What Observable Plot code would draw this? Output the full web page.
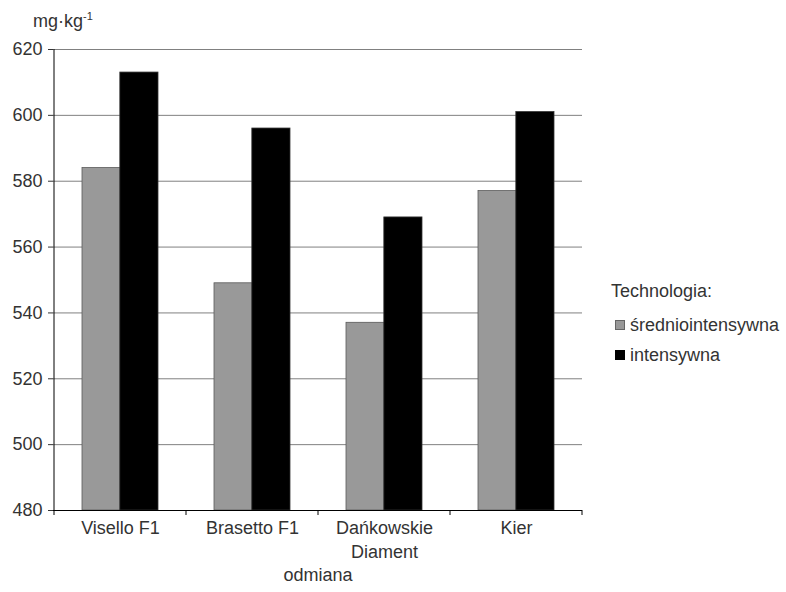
<!DOCTYPE html>
<html><head><meta charset="utf-8">
<script src="https://cdn.jsdelivr.net/npm/d3@7"></script>
<script src="https://cdn.jsdelivr.net/npm/@observablehq/plot@0.6"></script>
<style>
body{margin:0;background:#fff;font-family:"Liberation Sans",Arial,sans-serif;color:#333}
#wrap{position:relative;width:786px;height:592px}
#chart{position:absolute;left:0;top:0}
#ytitle{position:absolute;left:33px;top:11px;font-size:18px;line-height:20px;white-space:nowrap}
#ytitle sup{font-size:11px;vertical-align:0;position:relative;top:-7px}
.lg{position:absolute;left:611px;font-size:18px;line-height:20px;white-space:nowrap;display:flex;align-items:center}
.sw{width:8px;height:8px;margin-right:5px;margin-left:4px}
</style>
</head><body>
<div id="wrap">
  <div id="chart"></div>
  <div id="ytitle">mg·kg<sup>-1</sup></div>
  <div id="legend"></div>
</div>
<script>
const varieties = ["Visello F1", "Brasetto F1", "Dańkowskie Diament", "Kier"];
const varietyLabels = ["Visello F1", "Brasetto F1", "Dańkowskie\nDiament", "Kier"];
const seriesNames = ["średniointensywna", "intensywna"];
const sredniointensywna = [584, 549, 537, 577];
const intensywna = [613, 596, 569, 601];
const yTicks = [480, 500, 520, 540, 560, 580, 600, 620];
const legendTitle = "Technologia:";
const xTitle = "odmiana";

const W = 600, H = 592, mL = 53, mR = 18, mT = 49, mB = 82;
const PI = 0.428, PO = PI / 2;
const step = (W - mL - mR) / (varieties.length - PI + 2 * PO);
const half = step * (1 - PI) / 2;

const labelMap = new Map(varieties.map((v, i) => [v, varietyLabels[i]]));
const data = varieties.map((v, i) => ({variety: v, a: sredniointensywna[i], b: intensywna[i]}));

const plot = Plot.plot({
  width: W, height: H,
  marginLeft: mL, marginRight: mR, marginTop: mT, marginBottom: mB,
  style: {fontFamily: "Liberation Sans, Arial, sans-serif", fontSize: "18px", color: "#333", background: "white"},
  x: {domain: varieties, paddingInner: PI, paddingOuter: PO, axis: null},
  y: {domain: [480, 620], axis: null},
  marks: [
    Plot.ruleY(yTicks.slice(1), {stroke: "#808080", strokeWidth: 1}),
    Plot.barY(data, {x: "variety", y1: 480, y2: "a", fill: "#999999", stroke: "#5a5a5a", strokeWidth: 0.8, insetRight: half}),
    Plot.barY(data, {x: "variety", y1: 480, y2: "b", fill: "#000000", stroke: "#333", strokeWidth: 0.8, insetLeft: half}),
    Plot.ruleY([480], {stroke: "#000"}),
    Plot.axisY({ticks: yTicks, tickSize: 5, tickPadding: 6, label: null, fontSize: 18}),
    Plot.axisX({tickSize: 0, tickPadding: 7, tickFormat: d => labelMap.get(d), lineHeight: 1.3, label: null, fontSize: 18}),
    Plot.text([xTitle], {frameAnchor: "bottom", dy: 70, fontSize: 18, fill: "#333"})
  ]
});

// axis line and boundary ticks, positioned via the plot's own scales
const xs = plot.scale("x"), ys = plot.scale("y");
const bounds = varieties.map(v => xs.apply(v) - (xs.step - xs.bandwidth) / 2);
bounds.push(bounds[bounds.length - 1] + xs.step);
const g = d3.select(plot).append("g").attr("stroke", "#000").attr("stroke-width", 1);
g.append("line").attr("x1", bounds[0]).attr("x2", bounds[0]).attr("y1", ys.apply(620)).attr("y2", ys.apply(480));
g.selectAll("line.t").data(bounds).join("line").attr("class", "t")
  .attr("x1", d => d).attr("x2", d => d).attr("y1", ys.apply(480)).attr("y2", ys.apply(480) + 5);

document.getElementById("chart").appendChild(plot);

// legend
const lg = document.getElementById("legend");
const colors = ["#999999", "#000000"], borders = ["#666", "#000"];
const t = document.createElement("div"); t.className = "lg"; t.style.top = "281px"; t.textContent = legendTitle; lg.appendChild(t);
seriesNames.forEach((s, i) => {
  const d = document.createElement("div"); d.className = "lg"; d.style.top = (315 + i * 30) + "px";
  const sw = document.createElement("span"); sw.className = "sw"; sw.style.background = colors[i]; sw.style.border = "1px solid " + borders[i];
  d.appendChild(sw); d.appendChild(document.createTextNode(s)); lg.appendChild(d);
});
</script>
</body></html>
